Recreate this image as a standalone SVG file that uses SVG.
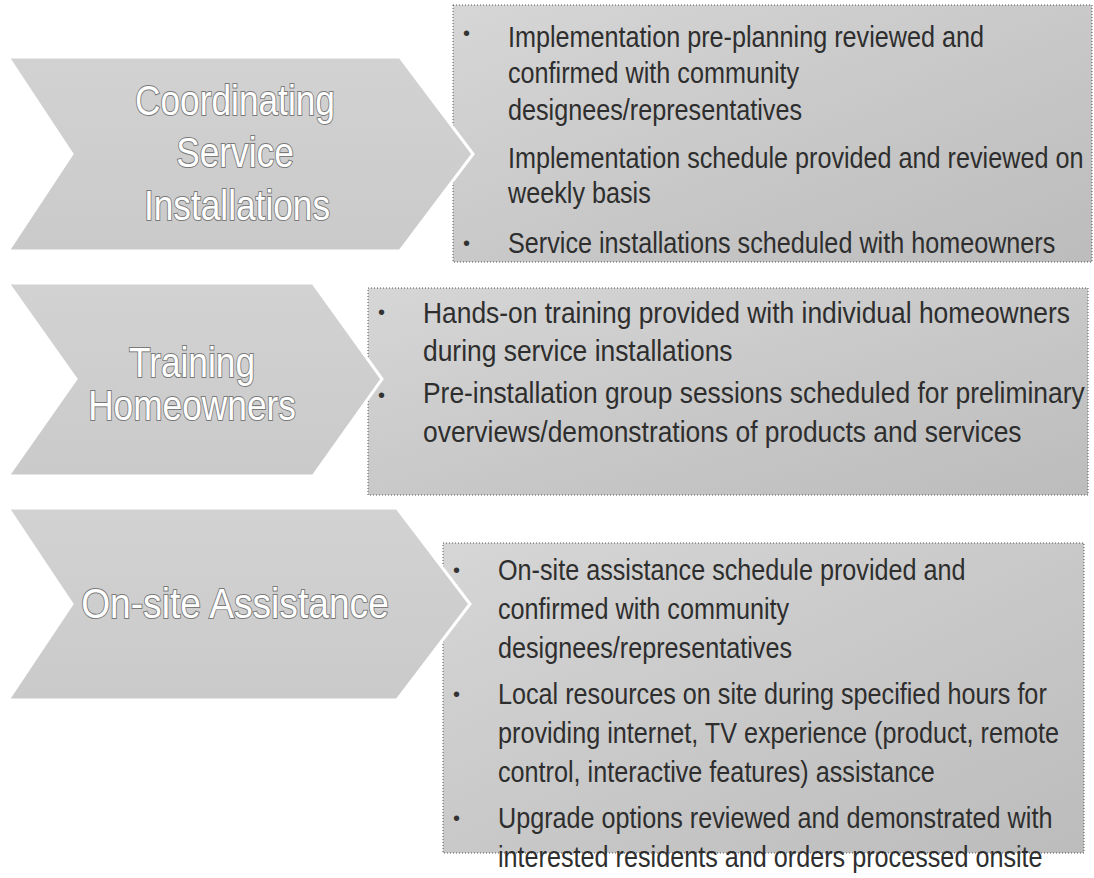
<svg xmlns="http://www.w3.org/2000/svg" width="1094" height="878" viewBox="0 0 1094 878">
  <defs>
    <linearGradient id="boxGrad" x1="0" y1="0" x2="1" y2="1">
      <stop offset="0" stop-color="#d6d6d6"/>
      <stop offset="0.6" stop-color="#c6c6c6"/>
      <stop offset="1" stop-color="#bcbcbc"/>
    </linearGradient>
    <linearGradient id="chevGrad" x1="0" y1="0" x2="0" y2="1">
      <stop offset="0" stop-color="#d2d2d2"/>
      <stop offset="1" stop-color="#cacaca"/>
    </linearGradient>
  </defs>
  <style>
    .box { fill: url(#boxGrad); stroke: #555; stroke-width: 1; stroke-dasharray: 1 2; }
    .chev { fill: url(#chevGrad); stroke: #ffffff; stroke-width: 3; stroke-linejoin: miter; }
    .lbl { font-family: "Liberation Sans", Arial, sans-serif; font-size: 42px; fill: #ffffff; stroke: #7a7a7a; stroke-width: 2; paint-order: stroke; text-anchor: middle; }
    .txt { font-family: "Liberation Sans", Arial, sans-serif; font-size: 30px; fill: #2e2e2e; }
    .bul { font-family: "Liberation Sans", Arial, sans-serif; font-size: 20px; fill: #333333; }
  </style>
  <rect width="1094" height="878" fill="#ffffff"/>

  <g id="details-coordinating">
    <rect class="box" x="453" y="5" width="639" height="257"/>
  </g>
  <g id="details-training">
    <rect class="box" x="368" y="288" width="720" height="207"/>
  </g>
  <g id="details-onsite">
    <rect class="box" x="443" y="543" width="641" height="310"/>
  </g>

  <g id="node-coordinating">
    <polygon class="chev" points="8,57 400,57 473,154 400,251 8,251 72,154"/>
    <text class="lbl" transform="translate(235,115) scale(0.84,1)">Coordinating</text>
    <text class="lbl" transform="translate(235,167) scale(0.84,1)">Service</text>
    <text class="lbl" transform="translate(237,220) scale(0.84,1)">Installations</text>
  </g>
  <g id="node-training">
    <polygon class="chev" points="8,283 313,283 382,379 313,476 8,476 76,379"/>
    <text class="lbl" transform="translate(192,377) scale(0.84,1)">Training</text>
    <text class="lbl" transform="translate(192,420) scale(0.84,1)">Homeowners</text>
  </g>
  <g id="node-onsite">
    <polygon class="chev" points="8,508 397,508 470,604 397,700 8,700 72,604"/>
    <text class="lbl" transform="translate(235,618) scale(0.885,1)">On-site Assistance</text>
  </g>

  <g id="connectors"/>

  <g id="details-coordinating-text">
    <text class="bul" x="463" y="40">•</text>
    <text class="txt" transform="translate(508,47) scale(0.84,1)">Implementation pre-planning reviewed and</text>
    <text class="txt" transform="translate(508,83) scale(0.84,1)">confirmed with community</text>
    <text class="txt" transform="translate(508,120) scale(0.84,1)">designees/representatives</text>
    <text class="txt" transform="translate(508,168) scale(0.84,1)">Implementation schedule provided and reviewed on</text>
    <text class="txt" transform="translate(508,203) scale(0.84,1)">weekly basis</text>
    <text class="bul" x="463" y="250">•</text>
    <text class="txt" transform="translate(508,253) scale(0.84,1)">Service installations scheduled with homeowners</text>
  </g>
  <g id="details-training-text">
    <text class="bul" x="378" y="319">•</text>
    <text class="txt" transform="translate(423,323) scale(0.88,1)">Hands-on training provided with individual homeowners</text>
    <text class="txt" transform="translate(423,361) scale(0.88,1)">during service installations</text>
    <text class="bul" x="378" y="402">•</text>
    <text class="txt" transform="translate(423,403) scale(0.88,1)">Pre-installation group sessions scheduled for preliminary</text>
    <text class="txt" transform="translate(423,442) scale(0.88,1)">overviews/demonstrations of products and services</text>
  </g>
  <g id="details-onsite-text">
    <text class="bul" x="453" y="577">•</text>
    <text class="txt" transform="translate(498,580) scale(0.84,1)">On-site assistance schedule provided and</text>
    <text class="txt" transform="translate(498,619) scale(0.84,1)">confirmed with community</text>
    <text class="txt" transform="translate(498,658) scale(0.84,1)">designees/representatives</text>
    <text class="bul" x="453" y="701">•</text>
    <text class="txt" transform="translate(498,704) scale(0.84,1)">Local resources on site during specified hours for</text>
    <text class="txt" transform="translate(498,743) scale(0.84,1)">providing internet, TV experience (product, remote</text>
    <text class="txt" transform="translate(498,782) scale(0.84,1)">control, interactive features) assistance</text>
    <text class="bul" x="453" y="825">•</text>
    <text class="txt" transform="translate(498,828) scale(0.84,1)">Upgrade options reviewed and demonstrated with</text>
    <text class="txt" transform="translate(498,867) scale(0.84,1)">interested residents and orders processed onsite</text>
  </g>
</svg>
